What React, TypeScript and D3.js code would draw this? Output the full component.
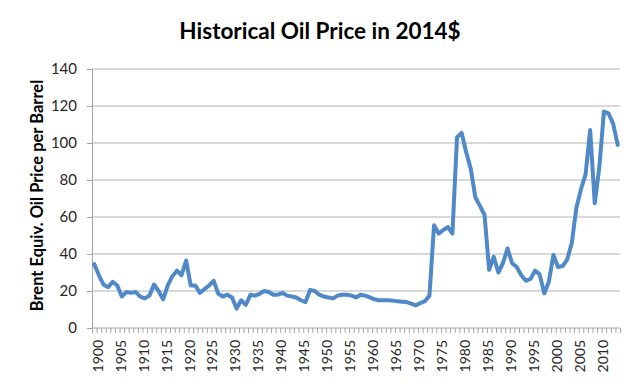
import React, { useEffect, useRef } from 'react';
import * as d3 from 'd3';

// years shown on the category axis
const years: number[] = d3.range(1900, 2015);

// Brent equivalent oil price, 2014 dollars per barrel
const prices: number[] = [
  34.5, 28.5, 23.5, 22, 25, 23, 17, 19.5, 19, 19.5,      // 1900s
  17, 16, 17.5, 23.5, 20, 15.5, 23, 28, 31, 28.5,        // 1910s
  36.5, 23, 23, 19, 21, 23, 25.5, 18.5, 17, 18,          // 1920s
  16.5, 10.5, 15, 12.5, 18, 17.5, 18.5, 20, 19.5, 18,    // 1930s
  18, 19, 17.5, 17, 16.5, 15, 14, 20.5, 20, 18,          // 1940s
  17, 16.5, 16, 17.5, 18, 18, 17.5, 16.5, 18, 17.5,      // 1950s
  16.5, 15.5, 15, 15, 15, 14.8, 14.4, 14.2, 14, 13.2,    // 1960s
  12.2, 13.5, 14.5, 17.5, 55.5, 51, 53, 54.5, 51, 103,   // 1970s
  105.5, 95, 86, 70.5, 66, 61, 31.5, 38.5, 30, 35,       // 1980s
  43, 35, 33, 28.5, 25.5, 26.5, 31, 29, 18.7, 25,        // 1990s
  39.5, 33, 33.5, 37, 46, 65, 75, 83, 107, 67.5,         // 2000s
  87, 117, 116, 110.5, 99                                // 2010s
];

const yTicks: number[] = [0, 20, 40, 60, 80, 100, 120, 140];
const labelEvery = 5;

const title = 'Historical Oil Price in 2014$';
const yTitle = 'Brent Equiv. Oil Price per Barrel';

const W = 640;
const H = 388;
const font = 'Lato, "Open Sans", sans-serif';

export default function App() {
  const ref = useRef<SVGSVGElement>(null);

  useEffect(() => {
    const svg = d3.select(ref.current);
    svg.selectAll('*').remove();

    const margin = { top: 69, right: 20, bottom: 60, left: 92 };

    const x = d3.scaleBand<number>()
      .domain(years)
      .range([margin.left, W - margin.right])
      .paddingInner(0)
      .paddingOuter(0);

    const y = d3.scaleLinear()
      .domain([0, 140])
      .range([H - margin.bottom, margin.top]);

    const cx = (yr: number) => (x(yr) as number) + x.bandwidth() / 2;

    // gridlines
    svg.append('g')
      .selectAll('line')
      .data(yTicks.filter(t => t > 0))
      .join('line')
      .attr('x1', margin.left)
      .attr('x2', W - margin.right)
      .attr('y1', d => y(d))
      .attr('y2', d => y(d))
      .attr('stroke', '#b3b3b3')
      .attr('stroke-width', 1);

    // y axis
    const yAxis = svg.append('g')
      .attr('transform', `translate(${margin.left},0)`)
      .call(d3.axisLeft(y).tickValues(yTicks).tickSize(5).tickPadding(10));
    yAxis.select('.domain').attr('stroke', '#a6a6a6');
    yAxis.selectAll('.tick line').attr('stroke', '#a6a6a6');
    yAxis.selectAll('.tick text')
      .attr('font-family', font)
      .attr('font-size', 15)
      .attr('fill', '#262626');

    // x axis: baseline + ticks on category boundaries
    const xg = svg.append('g');
    xg.append('line')
      .attr('x1', margin.left)
      .attr('x2', W - margin.right)
      .attr('y1', y(0))
      .attr('y2', y(0))
      .attr('stroke', '#a6a6a6');
    xg.selectAll('line.tk')
      .data(years.concat([years[years.length - 1] + 1]))
      .join('line')
      .attr('class', 'tk')
      .attr('x1', d => (x(d) ?? W - margin.right) + 0.5)
      .attr('x2', d => (x(d) ?? W - margin.right) + 0.5)
      .attr('y1', y(0))
      .attr('y2', y(0) + 5)
      .attr('stroke', '#a6a6a6');

    xg.selectAll('text')
      .data(years.filter((d, i) => i % labelEvery === 0))
      .join('text')
      .attr('transform', d => `translate(${cx(d) + 3.5},${y(0) + 12}) rotate(-90)`)
      .attr('text-anchor', 'end')
      .attr('dy', '0.35em')
      .attr('font-family', font)
      .attr('font-size', 14)
      .attr('fill', '#262626')
      .text(d => d);

    // price line
    const line = d3.line<number>()
      .x((d, i) => cx(years[i]))
      .y(d => y(d))
      .curve(d3.curveLinear);

    svg.append('path')
      .datum(prices)
      .attr('fill', 'none')
      .attr('stroke', '#5089c8')
      .attr('stroke-width', 4)
      .attr('stroke-linejoin', 'round')
      .attr('stroke-linecap', 'round')
      .attr('d', line);

    // titles
    svg.append('text')
      .attr('x', 320)
      .attr('y', 38.5)
      .attr('text-anchor', 'middle')
      .attr('font-family', font)
      .attr('font-weight', 'bold')
      .attr('font-size', 22.5)
      .attr('fill', '#000')
      .text(title);

    svg.append('text')
      .attr('transform', `translate(43,${(73 + 318) / 2}) rotate(-90)`)
      .attr('text-anchor', 'middle')
      .attr('font-family', font)
      .attr('font-weight', 'bold')
      .attr('font-size', 16.5)
      .attr('fill', '#000')
      .text(yTitle);
  }, []);

  return (
    <svg
      ref={ref}
      width={W}
      height={H}
      style={{ position: 'absolute', left: 0, top: 0, background: '#fff' }}
    />
  );
}
